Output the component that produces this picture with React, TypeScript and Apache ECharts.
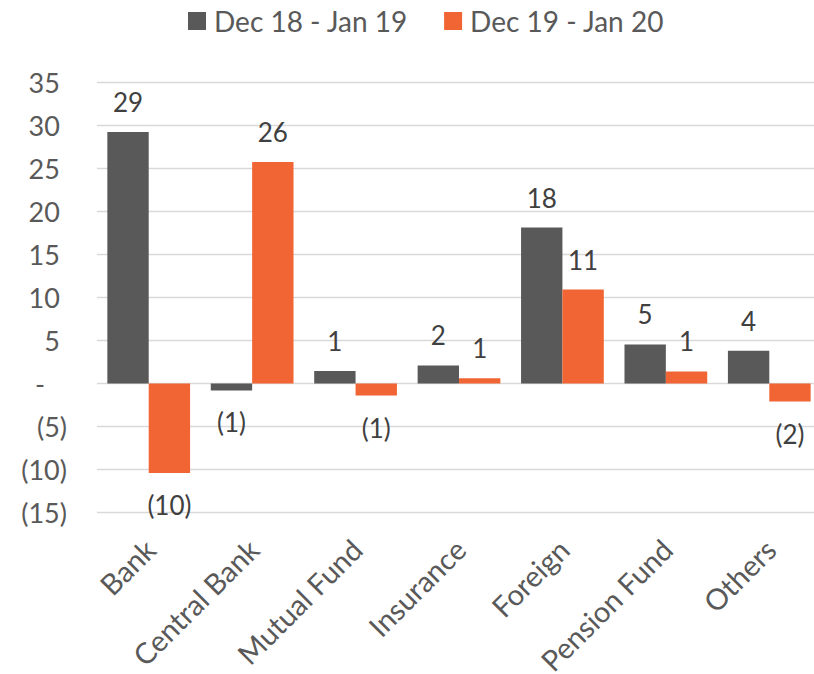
import React, { useEffect, useRef } from "react";
import * as echarts from "echarts";

// Net purchases by investor type (two comparison periods)
const categories = ["Bank", "Central Bank", "Mutual Fund", "Insurance", "Foreign", "Pension Fund", "Others"];
const seriesNames = ["Dec 18 - Jan 19", "Dec 19 - Jan 20"];
const prevPeriod = [29.2, -0.8, 1.45, 2.1, 18.1, 4.53, 3.8];
const currPeriod = [-10.4, 25.7, -1.4, 0.6, 10.9, 1.4, -2.1];
const yTicks = { min: -15, max: 35, interval: 5 };

const FONT = "Lato, 'Open Sans', sans-serif";
const DARK = "#595959";
const ORANGE = "#F06533";
const AXIS_TEXT = "#595959";
const LABEL_TEXT = "#404040";

const fmtValue = (v: number) => {
  const r = Math.round(Math.abs(v));
  return v < 0 ? `(${r})` : `${r}`;
};

const toData = (values: number[]) =>
  values.map((v) => ({
    value: v,
    label: { position: v >= 0 ? "top" : "bottom", distance: v >= 0 ? 17 : 19 },
  }));

export default function App() {
  const ref = useRef<HTMLDivElement>(null);

  useEffect(() => {
    if (!ref.current) return;
    const chart = echarts.init(ref.current, undefined, { renderer: "svg" });
    const labelStyle = {
      show: true,
      fontFamily: FONT,
      fontSize: 26,
      color: LABEL_TEXT,
      formatter: (p: any) => fmtValue(p.value as number),
    };
    chart.setOption({
      animation: false,
      backgroundColor: "#ffffff",
      textStyle: { fontFamily: FONT },
      legend: {
        data: seriesNames,
        left: 183,
        top: 2,
        icon: "rect",
        itemWidth: 18,
        itemHeight: 18,
        itemGap: 36,
        textStyle: { fontFamily: FONT, fontSize: 28, color: AXIS_TEXT, padding: [0, 0, 0, 3] },
      },
      grid: {
        left: 97,
        right: -7,
        top: 82,
        bottom: 161.3,
        containLabel: false,
        outerBoundsMode: "none",
      },
      xAxis: {
        type: "category",
        data: categories,
        axisLine: { show: false, onZero: false },
        axisTick: { show: false },
        axisLabel: {
          interval: 0,
          rotate: 45,
          align: "right",
          verticalAlign: "top",
          margin: 12,
          padding: [0, 13, 0, 0],
          fontFamily: FONT,
          fontSize: 29,
          color: AXIS_TEXT,
        },
      },
      yAxis: {
        type: "value",
        min: yTicks.min,
        max: yTicks.max,
        interval: yTicks.interval,
        axisLine: { show: false },
        axisTick: { show: false },
        splitLine: { lineStyle: { color: "#D9D9D9", width: 1.3 } },
        axisLabel: {
          margin: 30,
          fontFamily: FONT,
          fontSize: 27,
          color: AXIS_TEXT,
          formatter: (v: number) => {
            if (v > 0) return `{n|${v}}{p|)}`;
            if (v === 0) return `{n|-}{s| }`;
            return `{n|(${-v})}`;
          },
          rich: {
            n: { fontFamily: FONT, fontSize: 27, color: AXIS_TEXT },
            p: { fontFamily: FONT, fontSize: 27, color: "transparent" },
            s: { fontFamily: FONT, fontSize: 27, width: 22 },
          },
        },
      },
      series: [
        {
          name: seriesNames[0],
          type: "bar",
          data: toData(prevPeriod),
          itemStyle: { color: DARK },
          barGap: "0%",
          barCategoryGap: "20%",
          label: labelStyle,
        },
        {
          name: seriesNames[1],
          type: "bar",
          data: toData(currPeriod),
          itemStyle: { color: ORANGE },
          barGap: "0%",
          barCategoryGap: "20%",
          label: labelStyle,
        },
      ],
    });
    return () => chart.dispose();
  }, []);

  return (
    <div
      ref={ref}
      style={{ position: "fixed", left: 0, top: 0, width: 814, height: 674, background: "#fff" }}
    />
  );
}
